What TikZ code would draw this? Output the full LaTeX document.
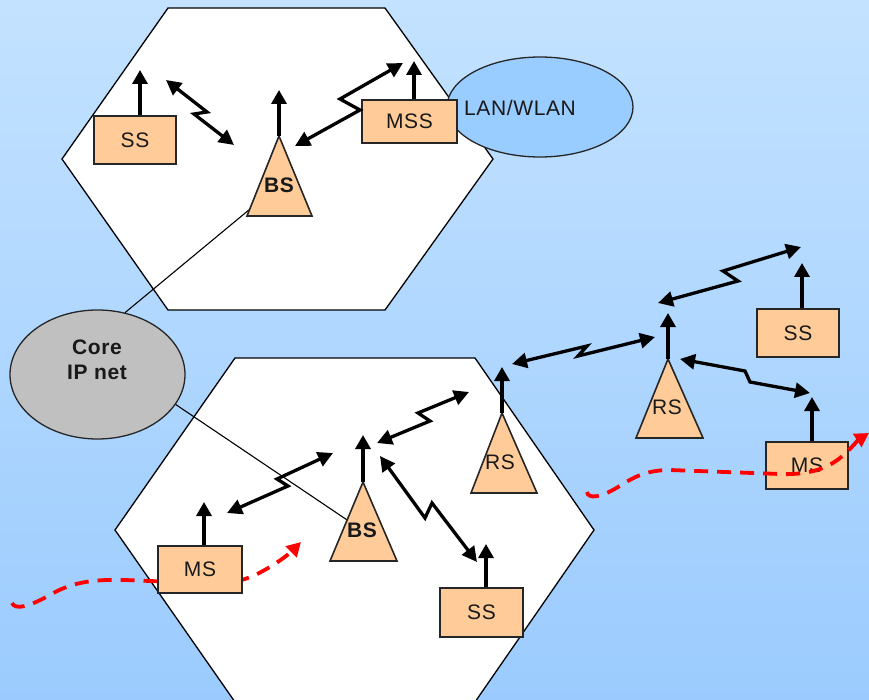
\documentclass[tikz,border=0pt]{standalone}
\usepackage{fontspec}
\setmainfont{Liberation Sans}
\newfontfamily\lab{Liberation Sans}[LetterSpace=3]
\usetikzlibrary{arrows.meta,shapes.geometric}
\definecolor{bgdark}{HTML}{9BCBFE}
\definecolor{bglight}{HTML}{C3E2FF}
\definecolor{peach}{HTML}{FFCC99}
\definecolor{lanblue}{HTML}{99CCFF}
\definecolor{coregray}{HTML}{C0C0C0}
\definecolor{dashred}{HTML}{FF0000}
\begin{document}
\begin{tikzpicture}[x=1pt,y=-1pt,
  txt/.style={font=\lab\fontsize{21}{25}\selectfont, text=black!90},
  boldtxt/.style={font=\lab\bfseries\fontsize{21}{25}\selectfont, text=black!90},
  cell/.style={draw=black, fill=white, line width=1.3pt, line join=miter},
  unitbox/.style={draw=black!85, fill=peach, line width=1.8pt, inner sep=0pt, txt},
  tower/.style={draw=black!85, fill=peach, line width=1.6pt, line join=miter},
  ant/.style={line width=3.3pt, -{Triangle[length=14pt,width=15pt]}},
  zz/.style={line width=3.3pt, line join=miter, {Triangle[length=15pt,width=15pt]}-{Triangle[length=15pt,width=15pt]}},
  wire/.style={line width=1.1pt},
  route/.style={draw=dashred, line width=3.8pt, dash pattern=on 14pt off 9pt, -{Triangle[length=14pt,width=15pt]}}
]
% background
\shade[shading angle=-45, top color=bglight, bottom color=bgdark] (0,0) rectangle (869,700);
\useasboundingbox (0,0) rectangle (869,700);

% cells
\draw[cell] (62,159) -- (168,8) -- (385,8) -- (493,159) -- (385,310) -- (168,310) -- cycle;
\draw[cell] (115,530) -- (235,358) -- (475,358) -- (594,530) -- (475,702) -- (235,702) -- cycle;

% networks
\node[draw=black!85, fill=lanblue, line width=1.3pt, ellipse, minimum width=186pt, minimum height=100pt, inner sep=0pt] (lan) at (540,107) {};
\node[txt] (lantxt) at (520,108) {LAN/WLAN};
\node[draw=black!85, fill=coregray, line width=1.3pt, ellipse, minimum width=175pt, minimum height=129pt, inner sep=0pt] (core) at (97.5,374.5) {};
\node[boldtxt, align=center] (coretxt) at (97,360) {Core\\IP net};

% base stations positions
\coordinate (bs1a) at (279,136);
\coordinate (bs2a) at (363,482);
\coordinate (rs1a) at (502,413);
\coordinate (rs2a) at (668,359);
\node[boldtxt] (bs1) at (279,185) {BS};
\node[boldtxt] (bs2) at (362,530) {BS};
\node[txt] (rs1) at (500,462) {RS};
\node[txt] (rs2) at (667,407) {RS};

% wires from core
\draw[wire] (core.66) -- (bs1.center);
\draw[wire] (core.-21) -- (bs2.center);

% left mobile route (behind MS box)
\coordinate (r1s) at (12,603);
\coordinate (r1e) at (301,542);
\draw[route] (r1s) .. controls (15,610) and (28,607) .. (48,596)
  .. controls (70,583) and (90,579) .. (125,580) -- (200,583)
  .. controls (230,583) and (240,582) .. (255,575)
  .. controls (272,567) and (288,555) .. (r1e);

% towers
\draw[tower] (bs1a) -- (312,216) -- (247,216) -- cycle;
\draw[tower] (bs2a) -- (397,561) -- (330,561) -- cycle;
\draw[tower] (rs1a) -- (537,493) -- (471,493) -- cycle;
\draw[tower] (rs2a) -- (703,438) -- (636,438) -- cycle;
\node[boldtxt] at (bs1) {BS};
\node[boldtxt] at (bs2) {BS};
\node[txt] at (rs1) {RS};
\node[txt] at (rs2) {RS};

% subscriber boxes
\node[unitbox, minimum width=82pt, minimum height=48pt] (ss1) at (135,140) {SS};
\node[unitbox, minimum width=95pt, minimum height=43pt] (mss) at (409.5,121.5) {MSS};
\node[unitbox, minimum width=84pt, minimum height=47pt] (ms1) at (200,569.5) {MS};
\node[unitbox, minimum width=83pt, minimum height=49pt] (ss2) at (481.5,612.5) {SS};
\node[unitbox, minimum width=82pt, minimum height=48pt] (ss3) at (798,333) {SS};
\node[unitbox, minimum width=82pt, minimum height=47pt] (ms2) at (807,465.5) {MS};

% antennas
\coordinate (ss1t) at (140,70);
\coordinate (bs1t) at (279,90);
\coordinate (msst) at (414,61);
\coordinate (ms1t) at (204,502);
\coordinate (bs2t) at (363,435);
\coordinate (rs1t) at (502,367);
\coordinate (ss2t) at (486,544);
\coordinate (rs2t) at (668,313);
\coordinate (ss3t) at (802,263);
\coordinate (ms2t) at (812,397);
\draw[ant] (ss1.north -| ss1t) -- (ss1t);
\draw[ant] (bs1a) -- (bs1t);
\draw[ant] (mss.north -| msst) -- (msst);
\draw[ant] (ms1.north -| ms1t) -- (ms1t);
\draw[ant] (bs2a) -- (bs2t);
\draw[ant] (rs1a) -- (rs1t);
\draw[ant] (ss2.north -| ss2t) -- (ss2t);
\draw[ant] (rs2a) -- (rs2t);
\draw[ant] (ss3.north -| ss3t) -- (ss3t);
\draw[ant] (ms2.north -| ms2t) -- (ms2t);

% radio links
\coordinate (l1a) at (166,80);  \coordinate (l1b) at (234,145);
\coordinate (l2a) at (403,63);  \coordinate (l2b) at (295,146);
\coordinate (l3a) at (227,513); \coordinate (l3b) at (333,453);
\coordinate (l4a) at (377,443); \coordinate (l4b) at (469,392);
\coordinate (l5a) at (380,456); \coordinate (l5b) at (477,562);
\coordinate (l6a) at (512,364); \coordinate (l6b) at (655,337);
\coordinate (l7a) at (658,303); \coordinate (l7b) at (801,247);
\coordinate (l8a) at (680,359); \coordinate (l8b) at (810,393);
\draw[zz] (l1a) -- (207,112) -- (194,114) -- (l1b);
\draw[zz] (l2a) -- (340,99) -- (360,110) -- (l2b);
\draw[zz] (l3a) -- (288,486) -- (277,479) -- (l3b);
\draw[zz] (l4a) -- (430,421) -- (418,413) -- (l4b);
\draw[zz] (l5a) -- (425,518) -- (432,503) -- (l5b);
\draw[zz] (l6a) -- (587,346) -- (578,356) -- (l6b);
\draw[zz] (l7a) -- (738,281) -- (723,271) -- (l7b);
\draw[zz] (l8a) -- (745,371) -- (750,382) -- (l8b);

% right mobile route (over MS box)
\coordinate (r2s) at (587,492);
\coordinate (r2e) at (869,433);
\draw[route] (r2s) .. controls (588,499) and (600,498) .. (618,487)
  .. controls (635,476) and (648,470) .. (670,470) -- (780,474)
  .. controls (805,475) and (825,470) .. (840,458)
  .. controls (850,450) and (858,440) .. (r2e);
\end{tikzpicture}
\end{document}
